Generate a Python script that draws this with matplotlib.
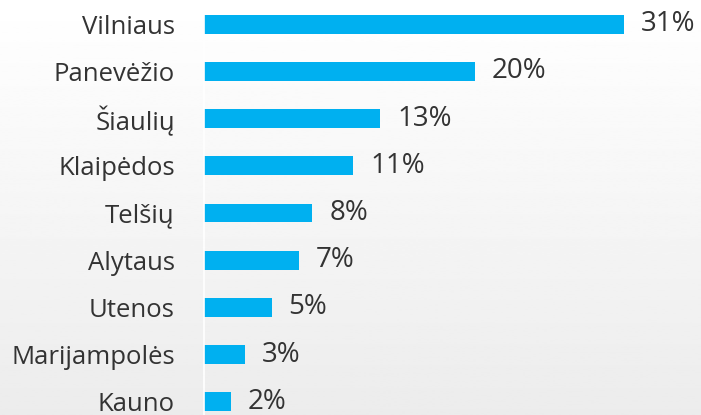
import numpy as np
import matplotlib
matplotlib.use("Agg")
import matplotlib.pyplot as plt

# Data
regions = ["Vilniaus", "Panevėžio", "Šiaulių", "Klaipėdos", "Telšių",
           "Alytaus", "Utenos", "Marijampolės", "Kauno"]
shares = [31, 20, 13, 11, 8, 7, 5, 3, 2]
share_labels = ["31%", "20%", "13%", "11%", "8%", "7%", "5%", "3%", "2%"]

BAR_COLOR = "#00b0f0"
TEXT_COLOR = "#333333"

plt.rcParams['font.family'] = ['Open Sans', 'DejaVu Sans']

W, H = 701, 415
fig = plt.figure(figsize=(W / 100, H / 100), dpi=100)

# Background: white at the top fading to light grey at the bottom
bg = fig.add_axes([0, 0, 1, 1], zorder=0)
grad = np.linspace(1.0, 0.925, 256).reshape(-1, 1)
bg.imshow(grad, aspect="auto", cmap="gray", vmin=0, vmax=1,
          extent=[0, 1, 0, 1], origin="upper")
bg.set_axis_off()

# Main axes; rows are ~47 px apart and the bottom one is cut by the figure edge
left_px, right_px = 204, 701
top_px, bottom_px = 0.5, 425.5
ax = fig.add_axes([left_px / W, 1 - bottom_px / H,
                   (right_px - left_px) / W, (bottom_px - top_px) / H], zorder=1)
ax.patch.set_alpha(0)

y = np.arange(len(regions))
ax.barh(y, shares, height=0.4, color=BAR_COLOR)
ax.set_ylim(len(regions) - 0.5, -0.5)
ax.set_xlim(0, (right_px - left_px) / 13.55)

for yi, v, lab in zip(y, shares, share_labels):
    ax.text(v + 1.25, yi, lab, va="center", ha="left", fontsize=20,
            color=TEXT_COLOR)

ax.set_yticks(y)
ax.set_yticklabels(regions, fontsize=18.5, color=TEXT_COLOR)
ax.tick_params(axis="y", length=0, pad=21)
ax.set_xticks([])

for side in ["top", "right", "bottom"]:
    ax.spines[side].set_visible(False)
ax.spines["left"].set_color("#ffffff")
ax.spines["left"].set_linewidth(1.2)

fig.savefig("out.png", dpi=100)
